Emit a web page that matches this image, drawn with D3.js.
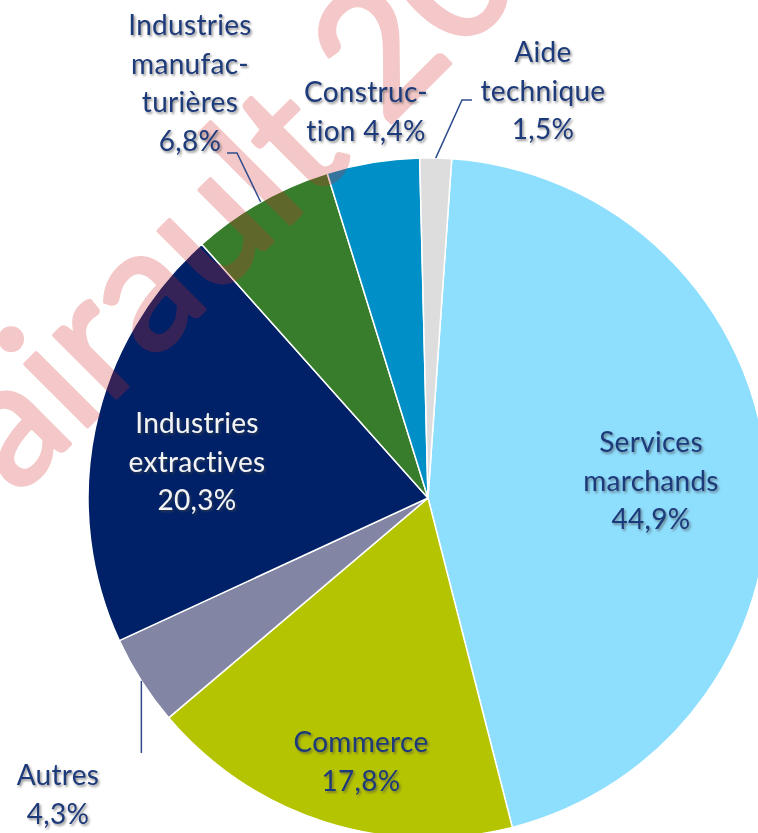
<!DOCTYPE html>
<html><head><meta charset="utf-8">
<script src="https://cdn.jsdelivr.net/npm/d3@7"></script>
<style>html,body{margin:0;padding:0;background:#fff;}svg{display:block;}</style>
</head><body>
<script>
// ---- data ----
const categories = ["Services marchands","Commerce","Autres","Industries extractives","Industries manufacturières","Construction","Aide technique"];
const values = [44.9, 17.8, 4.3, 20.3, 6.8, 4.4, 1.5];
const labelLines = [
  ["Services","marchands","{v}"],
  ["Commerce","{v}"],
  ["Autres","{v}"],
  ["Industries","extractives","{v}"],
  ["Industries","manufac-","turières","{v}"],
  ["Construc-","tion {v}"],
  ["Aide","technique","{v}"]
];
const colors = ["#8EDEFE","#B5C400","#8285A3","#002167","#387D2C","#008FC6","#DDDDDD"];
const watermarkText = "airault 20";

// ---- layout (positions / styles) ----
const W = 758, H = 833;
const cx = 428, cy = 498, R = 340;
const startDeg = 4;
const fontSize = 28, lineH = 38.7;
const textColor = "#1F3A7A";
// label anchor: centre x, first baseline y (page coords)
const labelPos = [
  {x:651, y:452, fill:textColor},
  {x:361, y:752, fill:textColor},
  {x:58,  y:785, fill:textColor},
  {x:197, y:433, fill:"#F4F4F4"},
  {x:190, y:35,  fill:textColor},
  {x:366, y:102, fill:textColor},
  {x:543, y:62,  fill:textColor}
];
// leader lines: extra points after the arc edge point
const leaders = {
  2: [[null, 753]],
  4: [[237,153],[227,153]],
  6: [[462,100],[472,100]]
};

const fmt = v => d3.format(".1f")(v).replace(".", ",") + "%";

const svg = d3.select("body").append("svg").attr("width", W).attr("height", H);
const defs = svg.append("defs");
const f = defs.append("filter").attr("id","shadow").attr("x","-20%").attr("y","-20%").attr("width","140%").attr("height","140%");
f.append("feDropShadow").attr("dx",1.5).attr("dy",1.8).attr("stdDeviation",1.2)
  .attr("flood-color","#444").attr("flood-opacity",0.6);

const pie = d3.pie().sort(null).value(d => d)
  .startAngle(startDeg*Math.PI/180).endAngle(startDeg*Math.PI/180 + 2*Math.PI);
const arcs = pie(values);
const arc = d3.arc().innerRadius(0).outerRadius(R);

const g = svg.append("g").attr("transform", `translate(${cx},${cy})`);
g.selectAll("path").data(arcs).join("path")
  .attr("d", arc)
  .attr("fill", (d,i) => colors[i])
  .attr("stroke", "#fff").attr("stroke-width", 1.5).attr("stroke-linejoin","round");

// watermark
svg.append("g").attr("opacity", 0.25)
  .append("text")
  .attr("transform", "translate(17,497) rotate(-45)")
  .attr("font-family", "Lato, 'Open Sans', sans-serif")
  .attr("font-size", 174)
  .attr("fill", "#D42828")
  .attr("stroke", "#D42828").attr("stroke-width", 4).attr("stroke-linejoin","round")
  .text(watermarkText);

// leader lines
Object.keys(leaders).forEach(k => {
  const i = +k, a = arcs[i];
  const mid = (a.startAngle + a.endAngle)/2;
  const ex = cx + R*Math.sin(mid), ey = cy - R*Math.cos(mid);
  const pts = [[ex,ey]].concat(leaders[k].map(p => [p[0]===null ? ex : p[0], p[1]]));
  svg.append("path").attr("d", d3.line()(pts))
    .attr("fill","none").attr("stroke","#2E4C8C").attr("stroke-width",1.5);
});

// labels
labelLines.forEach((lines, i) => {
  const p = labelPos[i];
  const t = svg.append("text")
    .attr("text-anchor","middle")
    .attr("font-family","Lato, 'Open Sans', sans-serif")
    .attr("font-size", fontSize)
    .attr("letter-spacing", 0.3)
    .attr("fill", p.fill)
    .attr("filter","url(#shadow)");
  lines.forEach((ln, j) => {
    t.append("tspan").attr("x", p.x).attr("y", p.y + j*lineH)
      .text(ln.replace("{v}", fmt(values[i])));
  });
});
</script>
</body></html>
